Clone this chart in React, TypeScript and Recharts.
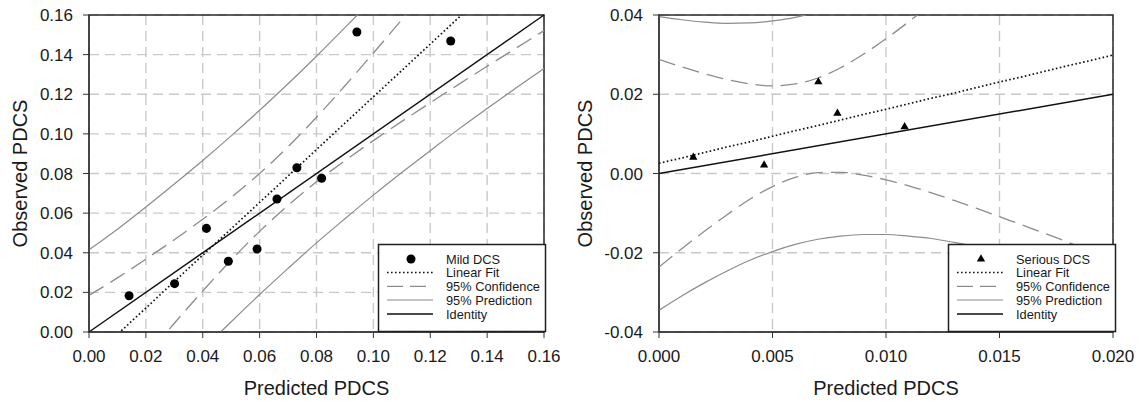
import React from 'react';
import {
  ComposedChart,
  Line,
  Scatter,
  XAxis,
  YAxis,
  ZAxis,
  CartesianGrid,
  ReferenceLine,
  ReferenceArea,
} from 'recharts';

const FONT = '"Liberation Sans", Arial, Helvetica, sans-serif';
const INK = '#1a1a1a';
const GRID = '#c9c9c9';
const BAND = '#8c8c8c';

// ---- Mild DCS ----
const mildPredicted = [0.0141, 0.0301, 0.0413, 0.049, 0.0591, 0.0661, 0.0731, 0.0818, 0.0942, 0.1272];
const mildObserved = [0.0183, 0.0244, 0.0523, 0.0357, 0.0419, 0.0671, 0.0829, 0.0776, 0.1514, 0.1469];

const mildCurveX = [0, 0.01, 0.02, 0.03, 0.04, 0.05, 0.06, 0.07, 0.08, 0.09, 0.1, 0.11, 0.12, 0.13, 0.14, 0.15, 0.16];
const mildFit = [-0.0145, -0.0012, 0.0121, 0.0255, 0.0388, 0.0521, 0.0654, 0.0787, 0.0921, 0.1054, 0.1187, 0.132, 0.1453, 0.1587, 0.172, 0.1853, 0.1986];
const mildConfUpper = [0.0185, 0.0273, 0.0368, 0.0466, 0.0569, 0.0679, 0.08, 0.0935, 0.1084, 0.1243, 0.1408, 0.1577, 0.1749, 0.1924, 0.2099, 0.2275, 0.2451];
const mildConfLower = [-0.047, -0.0297, -0.0126, 0.0044, 0.0207, 0.0363, 0.0508, 0.0639, 0.0758, 0.0865, 0.0966, 0.1063, 0.1157, 0.125, 0.1341, 0.1431, 0.1521];
const mildPredUpper = [0.0415, 0.0519, 0.0631, 0.0747, 0.0866, 0.099, 0.1119, 0.1253, 0.1392, 0.1536, 0.1683, 0.1835, 0.1991, 0.215, 0.2312, 0.2476, 0.2642];
const mildPredLower = [-0.0701, -0.0543, -0.0389, -0.0237, -0.009, 0.0052, 0.0189, 0.0321, 0.045, 0.0572, 0.0691, 0.0805, 0.0915, 0.1024, 0.1128, 0.123, 0.133];

const mildTicks = [0, 0.02, 0.04, 0.06, 0.08, 0.1, 0.12, 0.14, 0.16];

// ---- Serious DCS ----
const seriousPredicted = [0.00151, 0.00463, 0.00702, 0.00786, 0.01082];
const seriousObserved = [0.0041, 0.0021, 0.0231, 0.0152, 0.0118];

const seriousCurveX = [
  0, 0.001, 0.002, 0.003, 0.004, 0.005, 0.006, 0.007, 0.008, 0.009, 0.01,
  0.011, 0.012, 0.013, 0.014, 0.015, 0.016, 0.017, 0.018, 0.019, 0.02,
];
const seriousFit = [0.0026, 0.0039, 0.0053, 0.0067, 0.008, 0.0094, 0.0108, 0.0121, 0.0135, 0.0149, 0.0162, 0.0176, 0.019, 0.0203, 0.0217, 0.0231, 0.0244, 0.0258, 0.0272, 0.0285, 0.0299];
const seriousConfUpper = [0.0288, 0.0269, 0.0252, 0.0237, 0.0226, 0.0221, 0.0226, 0.0241, 0.0267, 0.0301, 0.034, 0.0383, 0.0428, 0.0475, 0.0522, 0.057, 0.0618, 0.0667, 0.0716, 0.0765, 0.0814];
const seriousConfLower = [-0.0236, -0.019, -0.0146, -0.0104, -0.0065, -0.0033, -0.001, 0.0002, 0.0003, -0.0004, -0.0016, -0.0031, -0.0049, -0.0068, -0.0088, -0.0109, -0.013, -0.0151, -0.0173, -0.0195, -0.0217];
const seriousPredUpper = [0.0396, 0.0388, 0.0382, 0.0379, 0.038, 0.0385, 0.0394, 0.0409, 0.0428, 0.0452, 0.0479, 0.051, 0.0544, 0.058, 0.0619, 0.0659, 0.0701, 0.0744, 0.0788, 0.0832, 0.0877];
const seriousPredLower = [-0.0345, -0.0309, -0.0276, -0.0246, -0.0219, -0.0197, -0.0179, -0.0166, -0.0158, -0.0154, -0.0154, -0.0158, -0.0164, -0.0174, -0.0185, -0.0198, -0.0212, -0.0228, -0.0244, -0.0262, -0.0279];

const seriousXTicks = [0, 0.005, 0.01, 0.015, 0.02];
const seriousYTicks = [-0.04, -0.02, 0, 0.02, 0.04];

const legendEntries = ['Linear Fit', '95% Confidence', '95% Prediction', 'Identity'];

type Row = { x: number; fit: number; confUpper: number; confLower: number; predUpper: number; predLower: number };

function buildRows(xs: number[], fit: number[], cu: number[], cl: number[], pu: number[], pl: number[]): Row[] {
  return xs.map((x, i) => ({ x, fit: fit[i], confUpper: cu[i], confLower: cl[i], predUpper: pu[i], predLower: pl[i] }));
}

function buildPoints(xs: number[], ys: number[]) {
  return xs.map((x, i) => ({ x, y: ys[i] }));
}

const mildRows = buildRows(mildCurveX, mildFit, mildConfUpper, mildConfLower, mildPredUpper, mildPredLower);
const mildPoints = buildPoints(mildPredicted, mildObserved);
const seriousRows = buildRows(seriousCurveX, seriousFit, seriousConfUpper, seriousConfLower, seriousPredUpper, seriousPredLower);
const seriousPoints = buildPoints(seriousPredicted, seriousObserved);

const FIT_DASH = '1.6 2.4';
const CONF_DASH = '17 8';

type PanelProps = {
  rows: Row[];
  points: { x: number; y: number }[];
  xDomain: [number, number];
  yDomain: [number, number];
  xTicks: number[];
  yTicks: number[];
  xDigits: number;
  yDigits: number;
  marker: 'circle' | 'triangle';
  markerSize: number;
  titleX: number;
  width: number;
  marginRight: number;
};

function Panel(p: PanelProps) {
  const tickStyle = { fill: INK, fontSize: 17, fontFamily: FONT };
  const yTitle = (props: any) => {
    const vb = props.viewBox;
    const x = vb.x + p.titleX;
    const y = vb.y + vb.height / 2;
    return (
      <text x={x} y={y} transform={`rotate(-90 ${x} ${y})`} textAnchor="middle" fontSize={20} fontFamily={FONT} fill={INK}>
        Observed PDCS
      </text>
    );
  };
  const xTitle = (props: any) => {
    const vb = props.viewBox;
    return (
      <text x={vb.x + vb.width / 2} y={vb.y + 63} textAnchor="middle" fontSize={20} fontFamily={FONT} fill={INK}>
        Predicted PDCS
      </text>
    );
  };
  return (
    <ComposedChart width={p.width} height={402} data={p.rows} margin={{ top: 15, right: p.marginRight, bottom: 0, left: 0 }}>
      <CartesianGrid stroke={GRID} strokeWidth={1.4} strokeDasharray="10 6" />
      <XAxis
        type="number"
        dataKey="x"
        domain={p.xDomain}
        ticks={p.xTicks}
        interval={0}
        allowDataOverflow
        height={70}
        tickSize={6}
        tickMargin={12}
        tick={tickStyle}
        stroke="#333"
        tickFormatter={(v: number) => v.toFixed(p.xDigits)}
        label={xTitle}
      />
      <YAxis
        type="number"
        domain={p.yDomain}
        ticks={p.yTicks}
        interval={0}
        allowDataOverflow
        width={89}
        tickSize={6}
        tickMargin={10}
        tick={tickStyle}
        stroke="#333"
        tickFormatter={(v: number) => v.toFixed(p.yDigits)}
        label={yTitle}
      />
      <ZAxis type="number" range={[p.markerSize, p.markerSize]} />
      <Line type="monotone" dataKey="predUpper" stroke={BAND} strokeWidth={1.2} dot={false} activeDot={false} isAnimationActive={false} />
      <Line type="monotone" dataKey="predLower" stroke={BAND} strokeWidth={1.2} dot={false} activeDot={false} isAnimationActive={false} />
      <Line type="monotone" dataKey="confUpper" stroke={BAND} strokeWidth={1.3} strokeDasharray={CONF_DASH} dot={false} activeDot={false} isAnimationActive={false} />
      <Line type="monotone" dataKey="confLower" stroke={BAND} strokeWidth={1.3} strokeDasharray={CONF_DASH} dot={false} activeDot={false} isAnimationActive={false} />
      <Line type="linear" dataKey="fit" stroke="#111" strokeWidth={1.7} strokeDasharray={FIT_DASH} dot={false} activeDot={false} isAnimationActive={false} />
      <ReferenceLine
        segment={[
          { x: p.xDomain[0], y: p.xDomain[0] },
          { x: p.xDomain[1], y: p.xDomain[1] },
        ]}
        stroke="#111"
        strokeWidth={1.5}
      />
      <Scatter data={p.points} dataKey="y" fill="#000" shape={p.marker} isAnimationActive={false} />
      <ReferenceArea x1={p.xDomain[0]} x2={p.xDomain[1]} y1={p.yDomain[0]} y2={p.yDomain[1]} fill="none" fillOpacity={0} stroke="#2a2a2a" strokeWidth={1.5} />
    </ComposedChart>
  );
}

function LegendBox({ title, marker }: { title: string; marker: 'circle' | 'triangle' }) {
  const rowsY = [16, 29.5, 43.3, 57, 71];
  return (
    <svg width={170} height={90} style={{ position: 'absolute', left: 377, top: 243 }}>
      <rect x={1.5} y={1.5} width={167} height={87} fill="#fff" stroke="#1f1f1f" strokeWidth={1.5} />
      {marker === 'circle' ? (
        <circle cx={34} cy={rowsY[0]} r={4.5} fill="#000" />
      ) : (
        <path d={`M34 ${rowsY[0] - 4.8} L38.2 ${rowsY[0] + 2.4} L29.8 ${rowsY[0] + 2.4} Z`} fill="#000" />
      )}
      <line x1={10} x2={56} y1={rowsY[1]} y2={rowsY[1]} stroke="#111" strokeWidth={1.7} strokeDasharray={FIT_DASH} />
      <line x1={10} x2={56} y1={rowsY[2]} y2={rowsY[2]} stroke={BAND} strokeWidth={1.3} strokeDasharray="16 7" />
      <line x1={10} x2={56} y1={rowsY[3]} y2={rowsY[3]} stroke={BAND} strokeWidth={1.2} />
      <line x1={10} x2={56} y1={rowsY[4]} y2={rowsY[4]} stroke="#111" strokeWidth={1.5} />
      {[title, ...legendEntries].map((t, i) => (
        <text key={t} x={69} y={rowsY[i]} dominantBaseline="central" fontSize={12.8} fontFamily={FONT} fill={INK}>
          {t}
        </text>
      ))}
    </svg>
  );
}

export default function App() {
  return (
    <div style={{ position: 'absolute', left: 0, top: 0, width: 1143, height: 402, background: '#fff', overflow: 'hidden' }}>
      <div style={{ position: 'absolute', left: 0, top: 0, width: 560, height: 402 }}>
        <Panel
          rows={mildRows}
          points={mildPoints}
          xDomain={[0, 0.16]}
          yDomain={[0, 0.16]}
          xTicks={mildTicks}
          yTicks={mildTicks}
          xDigits={2}
          yDigits={2}
          marker="circle"
          markerSize={64}
          titleX={26.7}
          width={560}
          marginRight={16}
        />
        <LegendBox title="Mild DCS" marker="circle" />
      </div>
      <div style={{ position: 'absolute', left: 570, top: 0, width: 573, height: 402 }}>
        <Panel
          rows={seriousRows}
          points={seriousPoints}
          xDomain={[0, 0.02]}
          yDomain={[-0.04, 0.04]}
          xTicks={seriousXTicks}
          yTicks={seriousYTicks}
          xDigits={3}
          yDigits={2}
          marker="triangle"
          markerSize={30}
          titleX={21.7}
          width={573}
          marginRight={30}
        />
        <LegendBox title="Serious DCS" marker="triangle" />
      </div>
    </div>
  );
}
